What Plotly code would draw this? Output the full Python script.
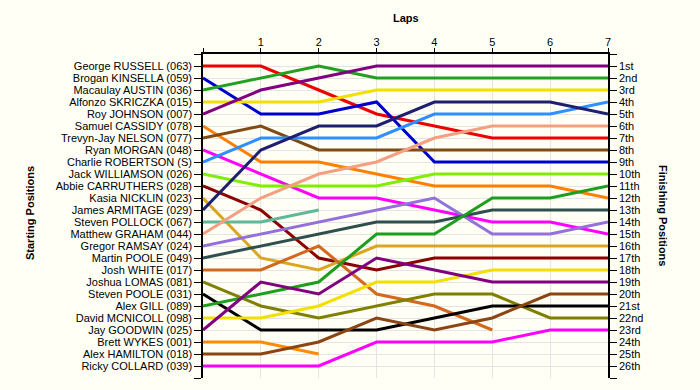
import plotly.graph_objects as go

laps = [0, 1, 2, 3, 4, 5, 6, 7]
lap_labels = ["", "1", "2", "3", "4", "5", "6", "7"]

drivers = [
    "George RUSSELL (063)", "Brogan KINSELLA (059)", "Macaulay AUSTIN (036)",
    "Alfonzo SKRICZKA (015)", "Roy JOHNSON (007)", "Samuel CASSIDY (078)",
    "Trevyn-Jay NELSON (077)", "Ryan MORGAN (048)", "Charlie ROBERTSON (S)",
    "Jack WILLIAMSON (026)", "Abbie CARRUTHERS (028)", "Kasia NICKLIN (023)",
    "James ARMITAGE (029)", "Steven POLLOCK (067)", "Matthew GRAHAM (044)",
    "Gregor RAMSAY (024)", "Martin POOLE (049)", "Josh WHITE (017)",
    "Joshua LOMAS (081)", "Steven POOLE (031)", "Alex GILL (089)",
    "David MCNICOLL (098)", "Jay GOODWIN (025)", "Brett WYKES (001)",
    "Alex HAMILTON (018)", "Ricky COLLARD (039)",
]

finish_labels = [
    "1st", "2nd", "3rd", "4th", "5th", "6th", "7th", "8th", "9th", "10th",
    "11th", "12th", "13th", "14th", "15th", "16th", "17th", "18th", "19th",
    "20th", "21st", "22nd", "23rd", "24th", "25th", "26th",
]

# position of each driver at lap 0..7 (shorter list = retired)
positions = [
    [1, 1, 3, 5, 6, 7, 7, 7],
    [2, 5, 5, 4, 9, 9, 9, 9],
    [3, 2, 1, 2, 2, 2, 2, 2],
    [4, 4, 4, 3, 3, 3, 3, 3],
    [5, 3, 2, 1, 1, 1, 1, 1],
    [6, 9, 9, 10, 11, 11, 11, 12],
    [7, 6, 8, 8, 8, 8, 8, 8],
    [8, 10, 12, 12, 13, 14, 14, 15],
    [9, 7, 7, 7, 5, 5, 5, 4],
    [10, 11, 11, 11, 10, 10, 10, 10],
    [11, 13, 17, 18, 17, 17, 17, 17],
    [12, 17, 18, 16, 16, 16, 16, 16],
    [13, 8, 6, 6, 4, 4, 4, 5],
    [14, 14, 13],
    [15, 12, 10, 9, 7, 6, 6, 6],
    [16, 15, 14, 13, 12, 15, 15, 14],
    [17, 16, 15, 14, 14, 13, 13, 13],
    [18, 18, 16, 20, 21, 23],
    [19, 21, 22, 21, 20, 20, 22, 22],
    [20, 23, 23, 23, 22, 21, 21, 21],
    [21, 20, 19, 15, 15, 12, 12, 11],
    [22, 22, 21, 19, 19, 18, 18, 18],
    [23, 19, 20, 17, 18, 19, 19, 19],
    [24, 24, 25],
    [25, 25, 24, 22, 23, 22, 20, 20],
    [26, 26, 26, 24, 24, 24, 23, 23],
]

colors = [
    "#ee0000", "#0000cd", "#22a022", "#f2e000", "#800080", "#ff7f00",
    "#7f4a13", "#ff00ff", "#2f8fff", "#80ee00", "#8b0000", "#daa520",
    "#1f1f70", "#5fb89a", "#f4a080", "#9370db", "#2f4f4f", "#d2691e",
    "#808000", "#000000", "#1e9e1e", "#f2e000", "#800080", "#ff8c00",
    "#8b4513", "#ff00ff",
]

bg = "#fffff6"
font = "Liberation Sans, Arial, sans-serif"

fig = go.Figure()
for name, pos, col in zip(drivers, positions, colors):
    fig.add_trace(go.Scatter(
        x=laps[:len(pos)], y=pos, mode="lines", name=name,
        line=dict(color=col, width=3), showlegend=False, hoverinfo="name",
    ))

fig.add_trace(go.Scatter(x=[None], y=[None], yaxis="y2", showlegend=False,
                         hoverinfo="skip"))

ytick_vals = list(range(0, 28))
fig.update_layout(
    width=700, height=390,
    margin=dict(l=203, r=92, t=54, b=12, autoexpand=False),
    paper_bgcolor=bg, plot_bgcolor=bg,
    font=dict(family=font, size=11, color="#000000"),
    xaxis=dict(
        range=[0, 7], side="top", tickvals=laps, ticktext=lap_labels,
        ticks="outside", ticklen=4, tickcolor="#000", showline=True,
        linecolor="#000", linewidth=1.5, showgrid=True, gridcolor="#e4e4e4",
        zeroline=False, tickfont=dict(size=11), automargin=False,
        ticklabelstandoff=-2,
    ),
    yaxis=dict(
        range=[27, 0], tickvals=ytick_vals,
        ticktext=[""] + drivers + [""],
        ticks="outside", ticklen=7, tickcolor="#000", showline=True,
        linecolor="#000", linewidth=1.5, showgrid=True, gridcolor="#e4e4e4",
        zeroline=False, tickfont=dict(size=11), automargin=False,
    ),
    yaxis2=dict(
        range=[27, 0], tickvals=ytick_vals,
        ticktext=[""] + finish_labels + [""],
        overlaying="y", side="right", anchor="x",
        ticks="outside", ticklen=7, tickcolor="#000", showline=True,
        linecolor="#000", linewidth=1.5, showgrid=False, zeroline=False,
        tickfont=dict(size=11), automargin=False,
    ),
    annotations=[
        dict(text="<b>Laps</b>", xref="paper", yref="paper", x=0.5,
             y=1 + 36 / 324, xanchor="center", yanchor="middle",
             showarrow=False, font=dict(size=11)),
        dict(text="<b>Starting Positions</b>", xref="paper", yref="paper",
             x=(30 - 203) / 405, y=(378 - 213) / 324, textangle=-90,
             xanchor="center", yanchor="middle", showarrow=False,
             font=dict(size=11)),
        dict(text="<b>Finishing Positions</b>", xref="paper", yref="paper",
             x=(663 - 203) / 405, y=(378 - 215) / 324, textangle=90,
             xanchor="center", yanchor="middle", showarrow=False,
             font=dict(size=11)),
    ],
)

fig.write_html(
    "out.html",
    config={"displayModeBar": False},
    post_script=(
        "document.body.style.margin='0';"
        "document.body.style.padding='0';"
        "document.body.style.overflow='hidden';"
        "document.body.style.background='" + bg + "';"
    ),
)
